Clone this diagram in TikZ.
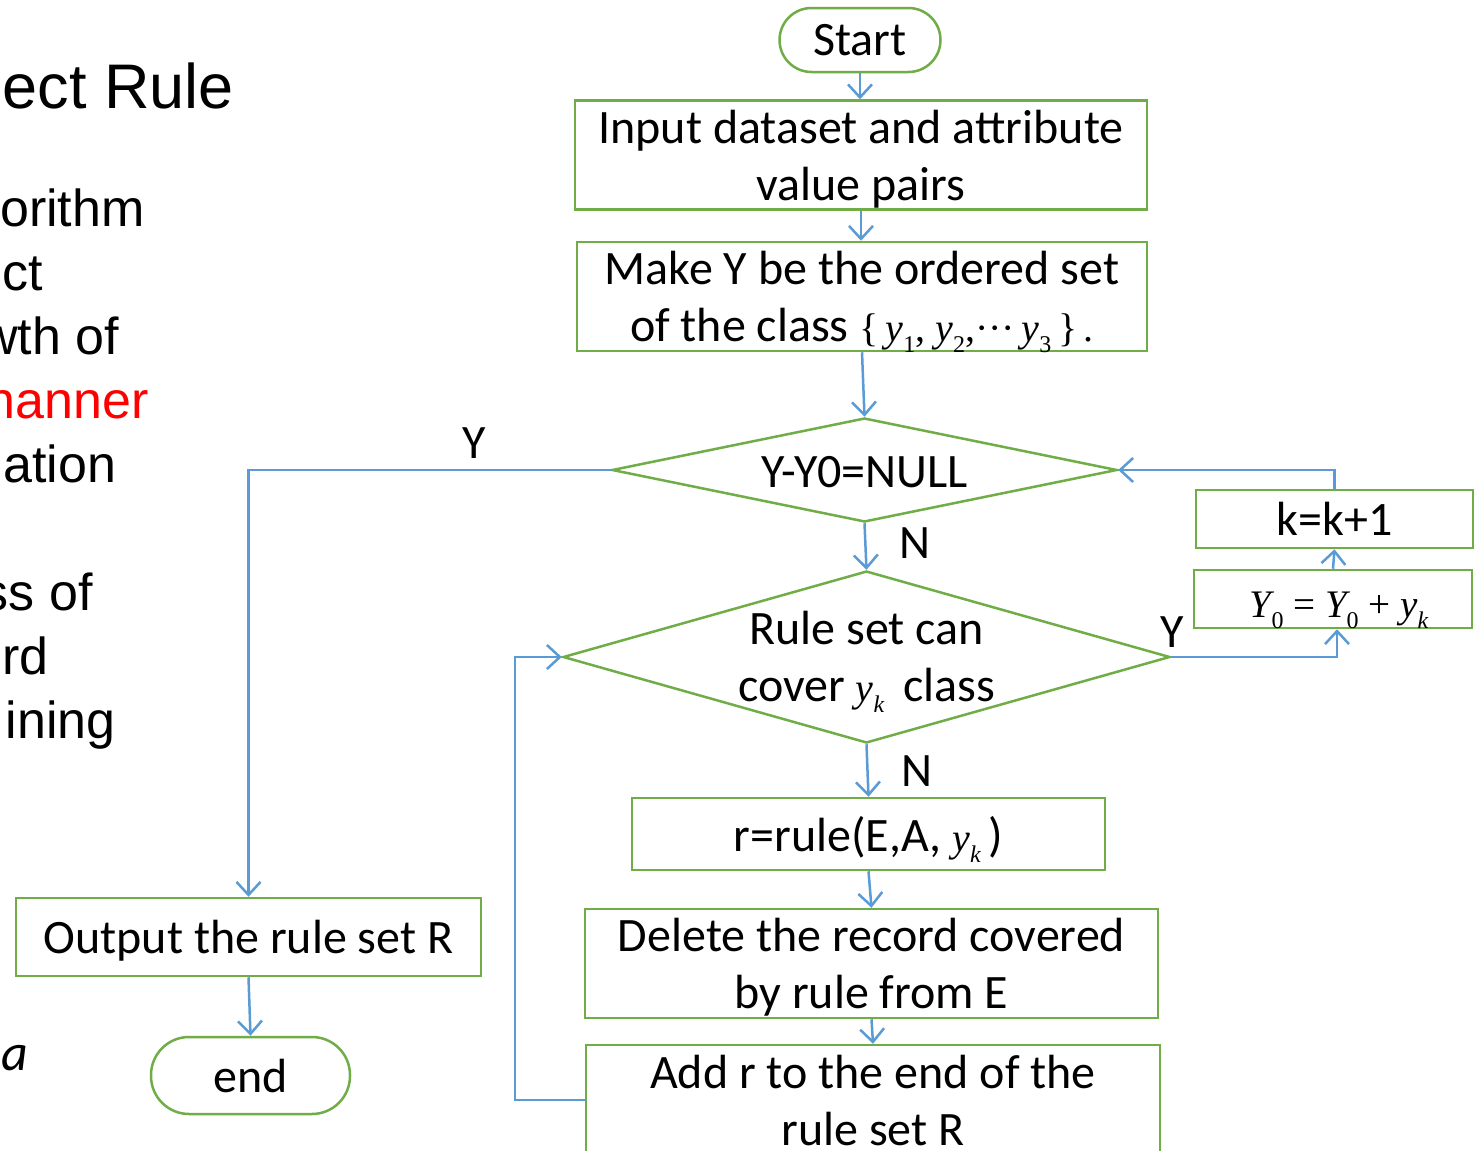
\documentclass[tikz,border=0pt]{standalone}
\usepackage{fontspec}
\setmainfont{Carlito}
\newfontfamily\arialf{Liberation Sans}
\newfontfamily\timesf{Liberation Serif}
\usetikzlibrary{arrows.meta,shapes.geometric}
\definecolor{gr}{HTML}{70AD47}
\definecolor{bl}{HTML}{5B9BD5}
\newcommand\Ti[1]{{\timesf\itshape #1}}
\newcommand\Sb[1]{\raisebox{-0.28em}{\fontsize{24}{24}\selectfont\timesf #1}}
\newcommand\Sbi[1]{\raisebox{-0.28em}{\fontsize{24}{24}\selectfont\timesf\itshape #1}}
\begin{document}
\begin{tikzpicture}[x=1pt,y=-1pt,
  txt/.style={font=\fontsize{48}{57}\selectfont, inner sep=0pt},
  box/.style={draw=gr, line width=2.5pt, align=center, inner sep=0pt, text depth=0pt, font=\fontsize{48}{57}\selectfont},
  term/.style={box, rounded corners=32pt},
  dia/.style={draw=gr, line width=2.5pt, diamond, inner sep=0pt},
  conn/.style={draw=bl, line width=2.5pt, -{Straight Barb[length=13pt,width=24pt]}},
  lft/.style={font=\arialf\fontsize{52}{52}\selectfont, inner sep=0pt}]
\useasboundingbox (0,0) rectangle (1481,1151);
\clip (0,0) rectangle (1481,1151);
\fill[white] (0,0) rectangle (1481,1151);

% left slide text (clipped at the left edge)
\node[lft, anchor=base east, font=\arialf\fontsize{63}{63}\selectfont] (l1) at (234,108) {ect Rule};
\node[lft, anchor=base west] (l2) at (0,226) {orithm};
\node[lft, anchor=base west] (l3) at (2,290) {ct};
\node[lft, anchor=base east] (l4) at (119,354) {wth of};
\node[lft, anchor=base east, text=red] (l5) at (149,418) {nanner};
\node[lft, anchor=base west] (l6) at (3,482) {ation};
\node[lft, anchor=base east] (l7) at (93,610) {ss of};
\node[lft, anchor=base west] (l8) at (2,674) {rd};
\node[lft, anchor=base east] (l9) at (116,738) {ining};
\node[anchor=base east, inner sep=0pt, font=\fontsize{52}{52}\selectfont\itshape] (l10) at (28,1070) {a};

% flowchart nodes
\node[term, minimum width=161pt, minimum height=64pt] (start) at (860,40) {Start};
\node[box, minimum width=572pt, minimum height=109pt] (input) at (861,155) {Input dataset and attribute\\value pairs};
\node[box, minimum width=570pt, minimum height=109pt] (makey) at (862,296.5) {Make Y be the ordered set\\of the class {\fontsize{40}{40}\selectfont\timesf\{\,\Ti{y}\Sb{1}, \Ti{y}\Sb{2},\textperiodcentered\textperiodcentered\textperiodcentered\,\Ti{y}\Sb{3}\,\}\,.}};
\node[dia, minimum width=505pt, minimum height=104pt] (d1) at (864.5,470) {};
\node[txt] (d1t) at (864.5,472) {Y-Y0=NULL};
\node[dia, minimum width=607pt, minimum height=172pt] (d2) at (866.5,657) {};
\node[txt, align=center] (d2t) at (866.5,662) {Rule set can\\cover {\fontsize{40}{40}\selectfont\Ti{y}\Sbi{k}}\, class};
\node[box, minimum width=473pt, minimum height=72pt] (rrule) at (868.5,834) {r=rule(E,A, {\fontsize{40}{40}\selectfont\Ti{y}\Sbi{k}}\,)};
\node[box, minimum width=573pt, minimum height=109pt] (del) at (871.5,963.5) {Delete the record covered\\by rule from E};
\node[box, minimum width=574pt, minimum height=110pt] (add) at (873,1100) {Add r to the end of the\\rule set R};
\node[box, minimum width=277pt, minimum height=58pt] (kbox) at (1334.5,519) {k=k+1};
\node[box, minimum width=278pt, minimum height=58pt] (y0box) at (1333,599) {};
\node[inner sep=0pt, font=\fontsize{39}{39}\selectfont\timesf] (y0t) at (1339,610) {\Ti{Y}\Sb{0} = \Ti{Y}\Sb{0} + \Ti{y}\Sbi{k}};
\node[box, minimum width=465pt, minimum height=78pt] (out) at (248.5,937) {Output the rule set R};
\node[term, minimum width=199pt, minimum height=77pt, rounded corners=38pt] (endn) at (250.5,1075.5) {end};

% labels
\node[txt] (ly1) at (474,443) {Y};
\node[txt] (ln1) at (915,543) {N};
\node[txt] (ly2) at (1172,632) {Y};
\node[txt] (ln2) at (917,771) {N};

% connectors
\draw[conn] (start.south) -- (input.north -| start.south);
\draw[conn] (input.south) -- (makey.north -| input.south);
\draw[conn] (makey.south) -- (d1.north);
\draw[conn] (d1.south) -- (d2.north);
\draw[conn] (d2.south) -- (rrule.north);
\draw[conn] (rrule.south) -- (del.north);
\draw[conn] (del.south) -- (add.north);
\draw[conn] (add.west) -- ++(-70,0) |- (d2.west);
\draw[conn] (d2.east) -| ([xshift=4pt]y0box.south);
\draw[conn] (y0box.north) -- (kbox.south);
\draw[conn] (kbox.north) |- (d1.east);
\draw[conn] (d1.west) -| (out.north);
\draw[conn] (out.south) -- (endn.north);
\end{tikzpicture}
\end{document}
